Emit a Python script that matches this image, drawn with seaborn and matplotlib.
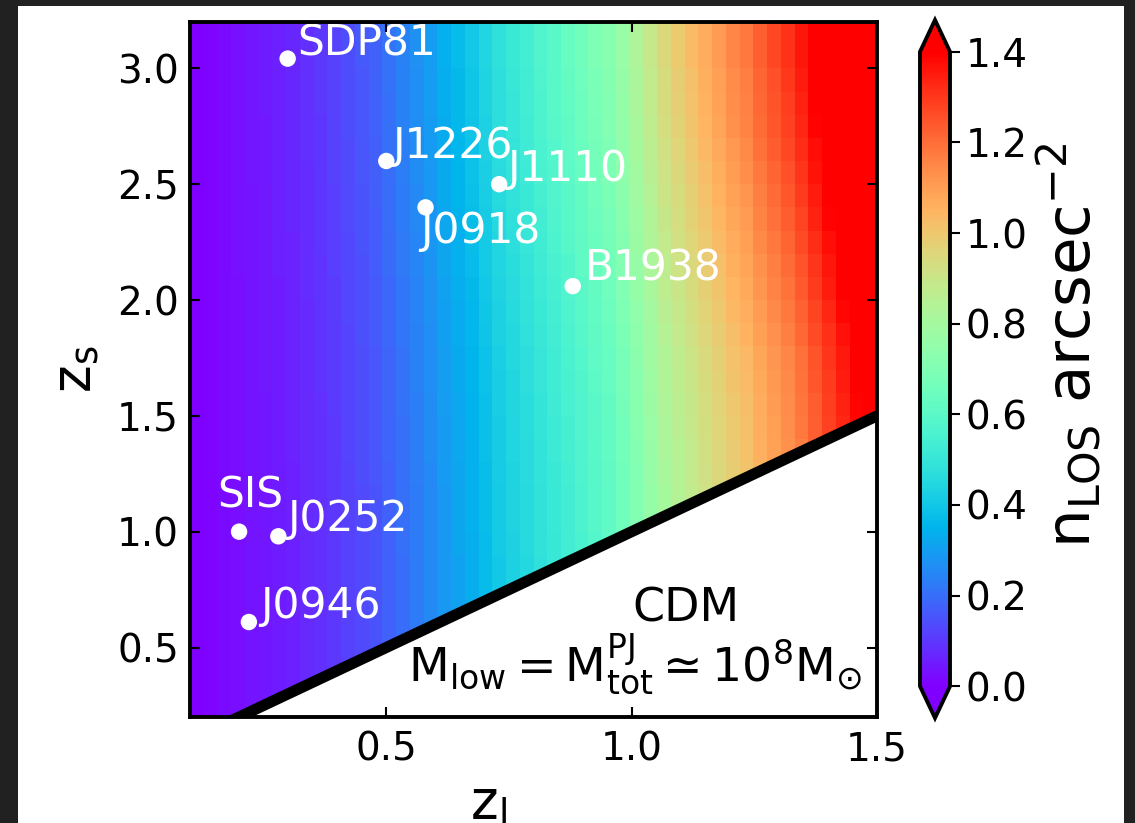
import numpy as np
import matplotlib
matplotlib.use("Agg")
import matplotlib.pyplot as plt
from matplotlib.patches import Rectangle
import seaborn as sns
import pandas as pd

# ---------------- data ----------------
# n_LOS per z_l column (read at the top of the panel, z_s ~ 3.1)
n_los_cols = [0.00, 0.01, 0.02, 0.03, 0.04, 0.05, 0.06, 0.07, 0.085, 0.10,
              0.12, 0.14, 0.16, 0.18, 0.21, 0.24, 0.27, 0.30, 0.34, 0.37,
              0.40, 0.44, 0.48, 0.51, 0.54, 0.57, 0.60, 0.63, 0.66, 0.69,
              0.72, 0.77, 0.83, 0.89, 0.95, 0.99, 1.03, 1.07, 1.11, 1.15,
              1.18, 1.23, 1.27, 1.31, 1.36, 1.42, 1.48, 1.54, 1.60, 1.66]
# relative change of n_LOS with source redshift (rows of 0.1 in z_s, 0.2 -> 3.2)
zs_factor = [0.84, 0.84, 0.84, 0.84, 0.84, 0.84, 0.84, 0.845, 0.85, 0.85,
             0.855, 0.86, 0.865, 0.87, 0.875, 0.88, 0.89, 0.90, 0.91, 0.92,
             0.93, 0.94, 0.95, 0.96, 0.97, 0.98, 0.985, 0.99, 1.00, 1.00]
zl_range = (0.1, 1.5)
zs_range = (0.2, 3.2)

lens_names = ["SDP81", "J1226", "J1110", "J0918", "B1938", "SIS", "J0252", "J0946"]
lens_zl = [0.299, 0.50, 0.73, 0.58, 0.88, 0.20, 0.28, 0.22]
lens_zs = [3.042, 2.60, 2.50, 2.40, 2.06, 1.00, 0.98, 0.61]

# boundary z_s = z_l
boundary_zl = [0.1, 1.5]
boundary_zs = [0.1, 1.5]

cbar_ticks = [0.0, 0.2, 0.4, 0.6, 0.8, 1.0, 1.2, 1.4]

# label offsets (pixels)
label_offsets = {"SDP81": (10, 3), "J1226": (6, 3), "J1110": (8, 3),
                 "J0918": (-5, -36), "B1938": (12, 6), "SIS": (-22, 24),
                 "J0252": (9, 5), "J0946": (11, 4)}

# ---------------- style ----------------
sns.set_style("ticks")
plt.rcParams["font.family"] = ["DejaVu Sans"]
plt.rcParams["mathtext.default"] = "regular"
for key in ["text.color", "axes.labelcolor", "xtick.color", "ytick.color",
            "axes.edgecolor"]:
    plt.rcParams[key] = "black"

W, H = 1135, 823
fig = plt.figure(figsize=(W / 100, H / 100), dpi=100)
fig.patch.set_facecolor("#212121")
fig.add_artist(Rectangle((18 / W, 0), (1124 - 18) / W, (H - 6) / H,
                         transform=fig.transFigure, facecolor="white",
                         edgecolor="none", zorder=-10))

ax = fig.add_axes([190 / W, (H - 717) / H, 687 / W, 695 / H])
cax = fig.add_axes([920 / W, (H - 718) / H, 30 / W, 698 / H])

zl_edges = np.linspace(zl_range[0], zl_range[1], len(n_los_cols) + 1)
zs_edges = np.linspace(zs_range[0], zs_range[1], len(zs_factor) + 1)
grid = np.outer(np.array(zs_factor), np.array(n_los_cols))

mesh = ax.pcolormesh(zl_edges, zs_edges, grid, cmap="rainbow", vmin=0.0, vmax=1.4,
                     shading="flat", rasterized=True, zorder=1)

ax.fill_between(boundary_zl, zs_range[0], boundary_zs, color="white", zorder=2, lw=0)
ax.plot(boundary_zl, boundary_zs, color="black", lw=8, zorder=3, solid_capstyle="butt")

df = pd.DataFrame({"zl": lens_zl, "zs": lens_zs, "name": lens_names})
sns.scatterplot(data=df, x="zl", y="zs", ax=ax, color="white", s=140,
                edgecolor="none", zorder=5, legend=False)
for name, x, y in zip(lens_names, lens_zl, lens_zs):
    ax.annotate(name, (x, y), xytext=label_offsets[name], textcoords="offset pixels",
                color="white", fontsize=30.5, ha="left", va="baseline", zorder=6)

ax.text(0.722, 0.137, "CDM", transform=ax.transAxes, fontsize=33,
        ha="center", va="baseline", zorder=6)
ax.text(0.978, 0.052, r"$M_{low}=M_{tot}^{PJ}\simeq10^8M_{\odot}$",
        transform=ax.transAxes, fontsize=34, ha="right", va="baseline", zorder=6)

ax.set_xlim(*zl_range)
ax.set_ylim(*zs_range)
ax.set_xticks([0.5, 1.0, 1.5])
ax.set_yticks([0.5, 1.0, 1.5, 2.0, 2.5, 3.0])
ax.tick_params(direction="in", length=7, width=1.5, top=True, right=True,
               labelsize=28, pad=8, colors="black")
ax.tick_params(axis="x", pad=10)
ax.xaxis.set_zorder(20)
ax.yaxis.set_zorder(20)
for sp in ax.spines.values():
    sp.set_linewidth(2.8)
    sp.set_color("black")
    sp.set_zorder(10)
ax.set_xlabel(r"$z_l$", fontsize=38)
ax.set_ylabel(r"$z_s$", fontsize=38)
ax.xaxis.set_label_coords(0.434, -0.087)
ax.yaxis.set_label_coords(-0.13, 0.5)

cb = fig.colorbar(mesh, cax=cax, extend="both", ticks=cbar_ticks)
cb.outline.set_linewidth(2.8)
cb.ax.tick_params(direction="out", length=7, width=1.5, labelsize=28, pad=4,
                  colors="black")
cb.ax.set_yticklabels([f"{t:.1f}" for t in cbar_ticks])
cb.set_label(r"$n_{LOS}$ arcsec$^{-2}$", fontsize=44, color="black")
cb.ax.yaxis.set_label_coords(3.83, 0.538)

fig.savefig("out.png", dpi=100, facecolor=fig.get_facecolor())
